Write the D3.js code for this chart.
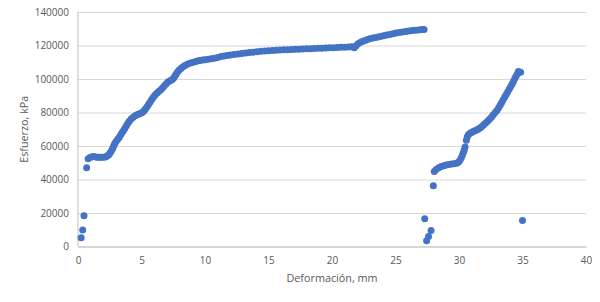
<!DOCTYPE html>
<html lang="es">
  <head>
    <meta charset="utf-8">
    <title>Esfuerzo vs Deformación</title>
    <script type="text/javascript" src="https://cdn.jsdelivr.net/npm/d3@7/dist/d3.min.js"></script>
    <style>
      body { margin: 0; background: #fff; }
      .axis text { font-family: "Open Sans", sans-serif; font-size: 10px; fill: #595959; }
      .label { font-family: "Open Sans", sans-serif; font-size: 10.8px; fill: #595959; }
    </style>
  </head>
  <body>
    <script type="text/javascript">
      var w = 600;
      var h = 302;
      // plot box (note: "top" is a reserved window property, so use plot*)
      var plotLeft = 78, plotRight = 586, plotTop = 12, plotBottom = 246.5;

      // deformación (mm) and esfuerzo (kPa)
      var deformacion = [
        0.25, 0.37, 0.47, 0.68,
        0.80, 0.95, 1.10, 1.25, 1.40, 1.55, 1.70, 1.85, 2.00, 2.15, 2.30, 2.42, 2.52, 2.62, 2.72, 2.80,
        2.88, 2.98, 3.10, 3.22, 3.34, 3.45, 3.56, 3.68, 3.80, 3.92, 4.05, 4.20, 4.35, 4.50, 4.65, 4.80,
        4.95, 5.08, 5.20, 5.32, 5.44, 5.56, 5.68, 5.80, 5.92, 6.05, 6.20, 6.35, 6.50, 6.65, 6.80, 6.95,
        7.10, 7.25, 7.40, 7.52, 7.62, 7.72, 7.82, 7.95, 8.10, 8.25, 8.42, 8.60, 8.80, 9.00, 9.20, 9.40,
        9.60, 9.80, 10.0, 10.25, 10.5, 10.75, 11.0, 11.25, 11.5, 11.75, 12.0, 12.3, 12.6, 12.9, 13.2, 13.5,
        13.8, 14.1, 14.4, 14.7, 15.0, 15.3, 15.6, 15.9, 16.2, 16.5, 16.8, 17.1, 17.4, 17.7, 18.0, 18.3,
        18.6, 18.9, 19.2, 19.5, 19.8, 20.1, 20.4, 20.7, 21.0, 21.3, 21.55, 21.75, 21.9, 22.05, 22.25, 22.45,
        22.65, 22.85, 23.05, 23.3, 23.55, 23.8, 24.05, 24.3, 24.55, 24.8, 25.05, 25.3, 25.55, 25.8, 26.05, 26.3,
        26.55, 26.8, 27.05, 27.25,
        27.30, 27.45, 27.60, 27.80, 27.98,
        28.05, 28.20, 28.40, 28.60, 28.80, 29.00, 29.20, 29.40, 29.60, 29.80, 29.95, 30.08, 30.18, 30.27,
        30.35, 30.42, 30.48, 30.58, 30.65, 30.75, 30.90, 31.05, 31.20, 31.35, 31.50, 31.65, 31.80, 31.95,
        32.10, 32.25, 32.40, 32.55, 32.70, 32.85, 33.00, 33.12, 33.24, 33.36, 33.48, 33.60, 33.72, 33.84,
        33.96, 34.08, 34.20, 34.30, 34.40, 34.50, 34.60, 34.68, 34.85,
        35.00
      ];
      var esfuerzo = [
        5200, 9900, 18300, 47000,
        52400, 53200, 53600, 53700, 53500, 53300, 53300, 53300, 53300, 53500, 54000, 54800, 55800, 57000, 58300, 59800,
        61200, 62500, 63800, 65000, 66300, 67700, 69000, 70500, 72000, 73600, 75000, 76200, 77200, 78000, 78600, 79100,
        79500, 80200, 81100, 82200, 83500, 84900, 86300, 87700, 89000, 90300, 91500, 92500, 93500, 94700, 95900, 97200,
        98300, 99000, 99600, 100400, 101600, 102900, 104100, 105200, 106200, 107100, 108000, 108800, 109400, 109900, 110300, 110700,
        111000, 111300, 111500, 111800, 112100, 112400, 112900, 113400, 113700, 114000, 114300, 114600, 114900, 115200, 115500, 115800,
        116000, 116300, 116500, 116700, 116900, 117000, 117200, 117300, 117400, 117500, 117600, 117700, 117800, 117900, 118000, 118100,
        118200, 118300, 118400, 118500, 118600, 118700, 118800, 118900, 119000, 119100, 119200, 118700, 119900, 121000, 121900, 122600,
        123200, 123700, 124200, 124600, 125000, 125400, 125800, 126200, 126600, 127000, 127400, 127800, 128100, 128400, 128700, 128900,
        129100, 129300, 129500, 129600,
        16500, 3400, 5900, 9500, 36300,
        44800, 46000, 47000, 47700, 48200, 48600, 48900, 49200, 49400, 49700, 50300, 51500, 53000, 54600,
        56200, 57800, 59400, 63500, 65500, 66800, 67700, 68300, 68900, 69400, 70000, 70800, 71700, 72700,
        73800, 74800, 75900, 77200, 78600, 80000, 81400, 82900, 84400, 86000, 87600, 89200, 90800, 92400,
        94000, 95600, 97200, 98800, 100400, 101800, 103200, 104500, 104000,
        15500
      ];
      var xTicks = [0, 5, 10, 15, 20, 25, 30, 35, 40];
      var yTicks = [0, 20000, 40000, 60000, 80000, 100000, 120000, 140000];

      var dataset = deformacion.map(function(d, i) { return {x: d, y: esfuerzo[i]}; });

      var svg = d3.select("body")
        .append("svg")
        .attr("width", w)
        .attr("height", h);

      var xScale = d3.scaleLinear().domain([0, 40]).range([plotLeft, plotRight]);
      var yScale = d3.scaleLinear().domain([0, 140000]).range([plotBottom, plotTop]);

      // horizontal gridlines + y labels
      var yAxis = d3.axisLeft(yScale)
          .tickValues(yTicks)
          .tickSize(-(plotRight - plotLeft))
          .tickPadding(9)
          .tickFormat(d3.format("d"));
      var gy = svg.append("g")
          .attr("class", "axis")
          .attr("transform", "translate(" + plotLeft + ",0)")
          .call(yAxis);
      gy.select(".domain").remove();
      gy.selectAll("line").attr("stroke", "#d9d9d9");

      var xAxis = d3.axisBottom(xScale)
          .tickValues(xTicks)
          .tickSize(0)
          .tickPadding(10);
      var gx = svg.append("g")
          .attr("class", "axis")
          .attr("transform", "translate(0," + plotBottom + ")")
          .call(xAxis);
      gx.select(".domain").attr("stroke", "#bfbfbf");

      // left axis line
      svg.append("line")
          .attr("x1", plotLeft).attr("x2", plotLeft)
          .attr("y1", plotTop).attr("y2", plotBottom)
          .attr("stroke", "#bfbfbf");

      svg.selectAll("circle")
          .data(dataset)
          .enter()
          .append("circle")
          .attr("cx", function(d) { return xScale(d.x); })
          .attr("cy", function(d) { return yScale(d.y); })
          .attr("r", 3.5)
          .attr("fill", "#4472c4");

      svg.append("text")
          .attr("class", "label")
          .attr("x", (plotLeft + plotRight) / 2)
          .attr("y", 282)
          .attr("text-anchor", "middle")
          .text("Deformación, mm");

      svg.append("text")
          .attr("class", "label")
          .attr("transform", "translate(28," + ((plotTop + plotBottom) / 2) + ") rotate(-90)")
          .attr("text-anchor", "middle")
          .text("Esfuerzo, kPa");
    </script>
  </body>
</html>
